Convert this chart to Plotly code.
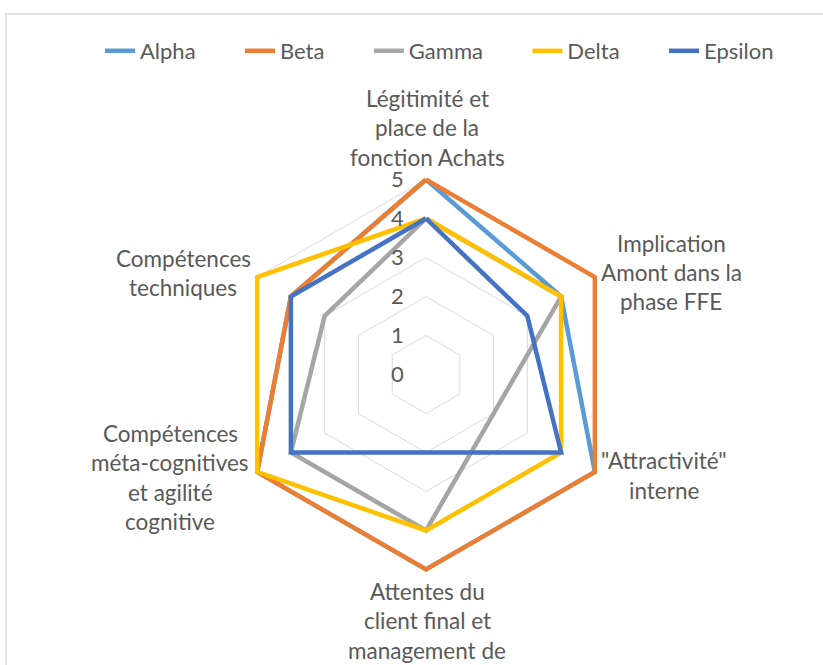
import plotly.graph_objects as go

# ---- data ----
categories = [
    "Légitimité et place de la fonction Achats",
    "Implication Amont dans la phase FFE",
    "\"Attractivité\" interne",
    "Attentes du client final et management de",
    "Compétences méta-cognitives et agilité cognitive",
    "Compétences techniques",
]
category_lines = [
    ["Légitimité et", "place de la", "fonction Achats"],
    ["Implication", "Amont dans la", "phase FFE"],
    ["\"Attractivité\"", "interne"],
    ["Attentes du", "client final et", "management de"],
    ["Compétences", "méta-cognitives", "et agilité", "cognitive"],
    ["Compétences", "techniques"],
]
series_names = ["Alpha", "Beta", "Gamma", "Delta", "Epsilon"]
alpha = [5, 4, 5, 5, 5, 4]
beta = [5, 5, 5, 5, 5, 4]
gamma = [4, 4, 2, 4, 4, 3]
delta = [4, 4, 4, 4, 5, 5]
epsilon = [4, 3, 4, 2, 4, 4]
series_values = [alpha, beta, gamma, delta, epsilon]
radial_ticks = [0, 1, 2, 3, 4, 5]

# ---- style ----
colors = ["#5B9BD5", "#ED7D31", "#A5A5A5", "#FFC000", "#4472C4"]
W, H = 823, 665
FONT = "Lato, Calibri, sans-serif"
TXT = "#595959"
GRID = "#D9D9D9"
cx, cy, R5 = 426, 374.5, 195          # centre and radius of level 5 (px)
RMAX = 5.07                            # a little headroom so thick lines are not clipped
R = R5 * RMAX / 5

# label block placement (px): center x, first line center y
label_pos = [(427, 98), (671, 243), (664, 461), (427, 591), (170, 433), (183, 258)]
pitch = 29.5
NBSP = "\u00a0" * 7

fig = go.Figure()
for name, vals, col in zip(series_names, series_values, colors):
    fig.add_trace(go.Scatterpolar(
        r=vals + vals[:1],
        theta=categories + categories[:1],
        mode="lines",
        name=name + NBSP,
        line=dict(color=col, width=4.5),
        hoverinfo="skip",
    ))

annotations = []
for lines, (x, y0) in zip(category_lines, label_pos):
    for i, t in enumerate(lines):
        annotations.append(dict(
            text=t, x=x / W, y=1 - (y0 + i * pitch) / H, xref="paper", yref="paper",
            xanchor="center", yanchor="middle", showarrow=False,
            font=dict(family=FONT, size=22.5, color=TXT),
        ))

fig.update_layout(
    width=W, height=H,
    margin=dict(l=0, r=0, t=0, b=0),
    paper_bgcolor="white",
    plot_bgcolor="white",
    showlegend=True,
    legend=dict(
        orientation="h", x=459 / W, xanchor="center", y=1 - 51 / H, yanchor="middle",
        font=dict(family=FONT, size=22, color=TXT),
        itemwidth=30, tracegroupgap=0,
        bgcolor="rgba(0,0,0,0)",
    ),
    polar=dict(
        domain=dict(x=[(cx - R) / W, (cx + R) / W], y=[1 - (cy + R) / H, 1 - (cy - R) / H]),
        bgcolor="white",
        gridshape="linear",
        radialaxis=dict(
            range=[0, RMAX], tickvals=radial_ticks, angle=90, side="counterclockwise",
            showline=False, gridcolor=GRID, gridwidth=1.2,
            ticks="outside", ticklen=14, tickcolor="rgba(0,0,0,0)",
            tickfont=dict(family=FONT, size=22, color=TXT),
            tickangle=90,
        ),
        angularaxis=dict(
            direction="clockwise", rotation=90, showticklabels=False,
            showgrid=False, showline=False, ticks="",
        ),
    ),
    annotations=annotations,
    shapes=[dict(type="rect", xref="paper", yref="paper",
                 x0=6 / W, x1=1.05, y0=-0.1, y1=1 - 14 / H,
                 line=dict(color=GRID, width=1.5), fillcolor="rgba(0,0,0,0)", layer="below")],
)

fig.write_html(
    "out.html",
    config={"displayModeBar": False},
    post_script="document.body.style.margin='0';document.body.style.overflow='hidden';",
)
